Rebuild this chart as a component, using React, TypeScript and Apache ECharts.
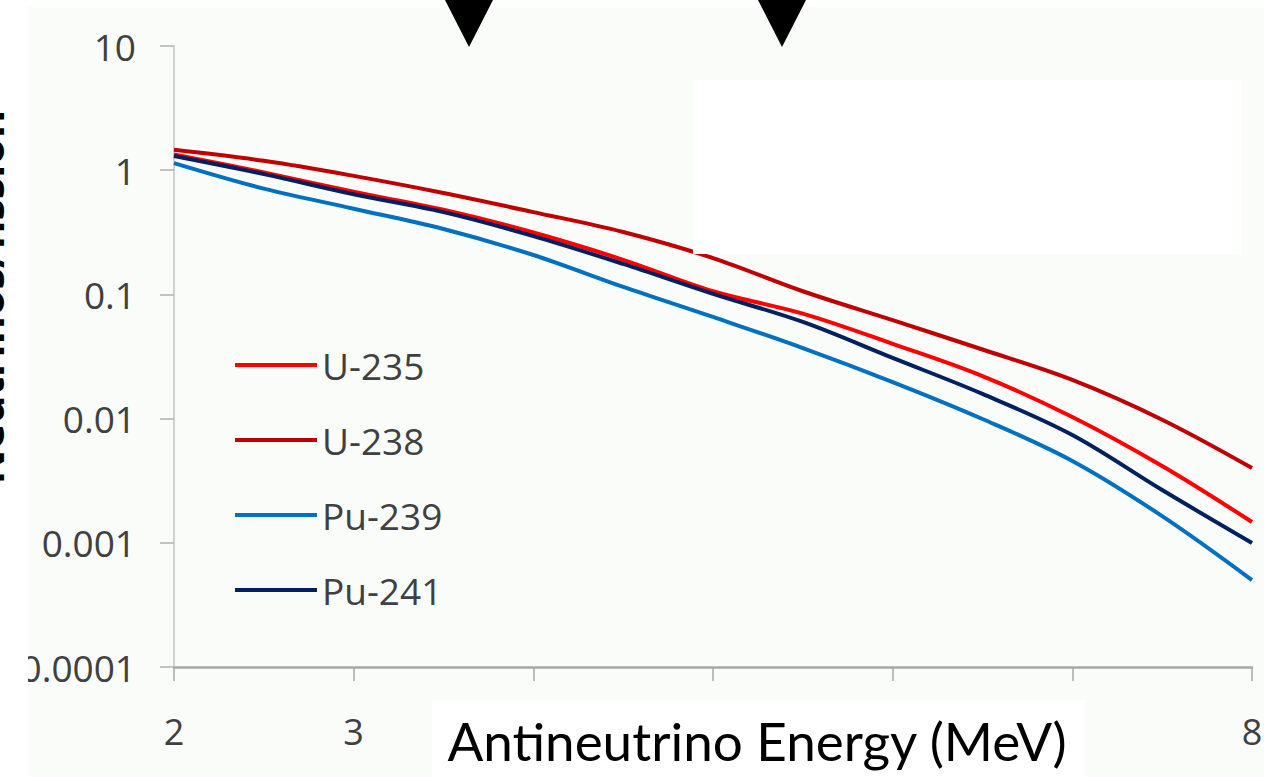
import React, { useEffect, useRef } from "react";
import * as echarts from "echarts";

const energy = [2, 2.5, 3, 3.5, 4, 4.5, 5, 5.5, 6, 6.5, 7, 7.5, 8];
const u235 = [1.34, 0.96, 0.67, 0.48, 0.315, 0.19, 0.106, 0.07, 0.04, 0.022, 0.0103, 0.00415, 0.00147];
const u238 = [1.46, 1.19, 0.9, 0.655, 0.46, 0.318, 0.196, 0.106, 0.062, 0.036, 0.0205, 0.0098, 0.004];
const pu239 = [1.14, 0.71, 0.49, 0.336, 0.2075, 0.115, 0.0658, 0.037, 0.0197, 0.00993, 0.00456, 0.00164, 0.000501];
const pu241 = [1.3, 0.93, 0.64, 0.46, 0.295, 0.176, 0.101, 0.06, 0.0308, 0.0158, 0.00738, 0.00266, 0.000996];
const yTickLabels = ["0.0001", "0.001", "0.01", "0.1", "1", "10"];
const xTickLabels: Record<number, string> = { 2: "2", 3: "3", 8: "8" };
const seriesNames = ["U-235", "U-238", "Pu-239", "Pu-241"];
const xTitle = "Antineutrino Energy (MeV)";
const yTitle = "Neutrinos/fission";

const colors: Record<string, string> = {
  "U-235": "#ff0000",
  "U-238": "#c00000",
  "Pu-239": "#0070c0",
  "Pu-241": "#002060",
};

function pairs(vals: number[]) {
  return energy.map((e, i) => [e, vals[i]]);
}

export default function App() {
  const ref = useRef<HTMLDivElement>(null);
  useEffect(() => {
    if (!ref.current) return;
    const chart = echarts.init(ref.current, undefined, { renderer: "svg" });
    const mk = (name: string, vals: number[], z: number) => ({
      name,
      type: "line",
      data: pairs(vals),
      showSymbol: false,
      symbol: "none",
      smooth: 0.35,
      z,
      lineStyle: { color: colors[name], width: 4 },
      itemStyle: { color: colors[name] },
    });
    chart.setOption({
      animation: false,
      backgroundColor: "#f9fcf9",
      grid: { left: 174, right: 19, top: 46, bottom: 110, containLabel: false },
      legend: {
        orient: "vertical",
        left: 230,
        top: 341,
        itemWidth: 82,
        itemHeight: 4,
        itemGap: 37,
        icon: "rect",
        data: seriesNames,
        textStyle: { fontFamily: "Open Sans", fontSize: 37, color: "#404040", lineHeight: 38 },
      },
      xAxis: {
        type: "value",
        min: 2,
        max: 8,
        interval: 1,
        axisLine: { lineStyle: { color: "#a8a8a8", width: 2.5 } },
        axisTick: { show: true, length: 14, lineStyle: { color: "#a8a8a8", width: 1.5 } },
        axisLabel: {
          margin: 46,
          fontFamily: "Open Sans",
          fontSize: 36,
          color: "#404040",
          formatter: (v: number) => xTickLabels[Math.round(v)] ?? "",
        },
        splitLine: { show: false },
      },
      yAxis: {
        type: "log",
        logBase: 10,
        min: 0.0001,
        max: 10,
        axisLine: { show: true, lineStyle: { color: "#c4c4c4", width: 1.5 } },
        axisTick: { show: true, length: 14, lineStyle: { color: "#b0b0b0", width: 1.5 } },
        axisLabel: {
          margin: 38,
          fontFamily: "Open Sans",
          fontSize: 37,
          color: "#404040",
          formatter: (v: number) => yTickLabels[Math.round(Math.log10(v)) + 4] ?? "",
        },
        splitLine: { show: false },
      },
      series: [
        mk("U-235", u235, 2),
        mk("Pu-239", pu239, 3),
        mk("Pu-241", pu241, 4),
        mk("U-238", u238, 5),
      ],
      graphic: [
        { type: "rect", z: 100, shape: { x: 0, y: 0, width: 28, height: 777 }, style: { fill: "#ffffff" } },
        { type: "rect", z: 100, shape: { x: 0, y: 0, width: 1271, height: 7 }, style: { fill: "#ffffff" } },
        { type: "rect", z: 100, shape: { x: 1264, y: 0, width: 7, height: 777 }, style: { fill: "#ffffff" } },
        { type: "rect", z: 100, shape: { x: 693, y: 80, width: 548, height: 174 }, style: { fill: "#ffffff" } },
        { type: "rect", z: 100, shape: { x: 432, y: 700, width: 653, height: 77 }, style: { fill: "#ffffff" } },
        {
          type: "text",
          z: 101,
          x: 757,
          y: 740,
          style: {
            text: xTitle,
            fontFamily: "Lato",
            fontSize: 53,
            fill: "#000000",
            align: "center",
            verticalAlign: "middle",
          },
        },
        {
          type: "text",
          z: 101,
          x: 9,
          y: 297,
          rotation: Math.PI / 2,
          style: {
            text: yTitle,
            fontFamily: "Open Sans",
            fontWeight: "bold",
            fontSize: 43,
            fill: "#000000",
            align: "center",
            verticalAlign: "bottom",
          },
        },
        {
          type: "polygon",
          z: 102,
          shape: { points: [[445, 0], [493, 0], [469, 47]] },
          style: { fill: "#000000" },
        },
        {
          type: "polygon",
          z: 102,
          shape: { points: [[758, 0], [806, 0], [782, 47]] },
          style: { fill: "#000000" },
        },
      ],
    });
    return () => chart.dispose();
  }, []);
  return (
    <div
      ref={ref}
      style={{ position: "fixed", left: 0, top: 0, width: 1271, height: 777, background: "#ffffff" }}
    />
  );
}
